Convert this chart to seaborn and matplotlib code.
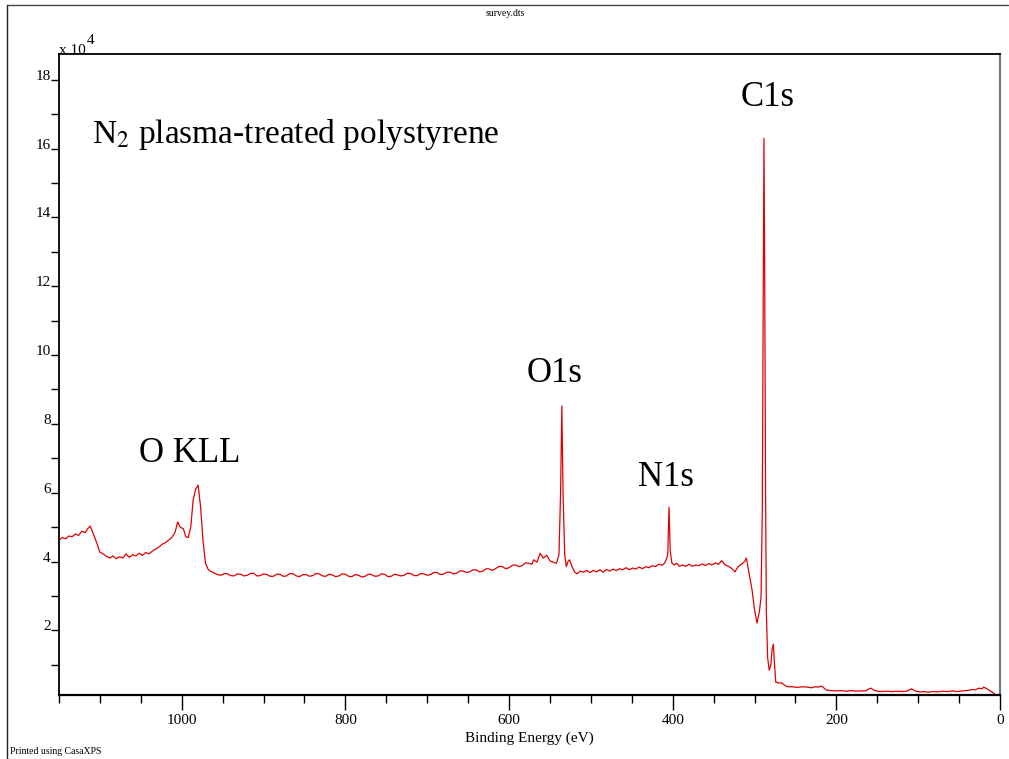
import matplotlib
matplotlib.use("Agg")
import matplotlib.pyplot as plt
import matplotlib.ticker as mticker
from matplotlib.lines import Line2D
import seaborn as sns
import pandas as pd

# Binding energy (eV) and intensity (counts)
binding_energy = [
    1150, 1146, 1142, 1138, 1134, 1130, 1126, 1122, 1118, 1115, 1112, 1108, 1104, 1100,
    1096, 1092, 1088, 1084, 1080, 1076, 1072, 1068, 1064, 1060, 1056, 1052, 1048, 1044,
    1040, 1036, 1032, 1028, 1024, 1020, 1016, 1012, 1008, 1005, 1002, 998, 995, 992,
    989, 986, 983, 980, 977, 974, 971, 968, 965,
    960, 956, 952, 948, 944, 940, 936, 932, 928, 924, 920, 916, 912, 908, 904, 900,
    896, 892, 888, 884, 880, 876, 872, 868, 864, 860, 856, 852, 848, 844, 840, 836,
    832, 828, 824, 820, 816, 812, 808, 804, 800, 796, 792, 788, 784, 780, 776, 772,
    768, 764, 760, 756, 752, 748, 744, 740, 736, 732, 728, 724, 720, 716, 712, 708,
    704, 700, 696, 692, 688, 684, 680, 676, 672, 668, 664, 660, 656, 652, 648, 644,
    640, 636, 632, 628, 624, 620, 616, 612, 608, 604, 600, 596, 592, 588, 584, 580,
    576, 572, 570, 566, 562, 558, 554, 550, 546, 542, 539, 537, 535.5, 534, 532, 530,
    528, 526, 523, 520, 517, 513, 509, 505, 501, 497, 493, 489, 485, 481, 477, 473,
    469, 465, 461, 457, 453, 449, 445, 441, 437, 433, 429, 425, 421, 417, 413, 410,
    408, 406, 404.5, 403, 401, 398, 395, 392, 388, 384, 380, 376, 372, 368, 364, 360,
    356, 352, 348, 344, 340, 336, 332, 328, 324, 320, 316, 312, 310, 307, 303, 300,
    297, 294, 292, 290.5, 289.5, 288.5, 287.5, 286.5, 285.5, 284, 282, 280, 278.5, 277,
    275.5, 274, 270, 267, 263, 260, 254, 248, 242, 236, 230, 226, 222, 218, 214, 212,
    206, 200, 194, 188, 182, 176, 170, 164, 160, 158, 154, 150, 144, 138, 132, 126,
    120, 114, 110, 108, 104, 98, 92, 88, 82, 76, 70, 64, 58, 52, 46, 40, 34, 30, 26,
    22, 20, 16, 12, 8, 5, 3,
]
counts = [
    46200, 47000, 46600, 47400, 47200, 48000, 47600, 48800, 48400, 49500, 50300, 48000, 45500, 42700,
    42200, 41500, 41000, 41600, 40800, 41400, 41000, 42200, 41200, 42000, 41600, 42400, 41800, 42600,
    42200, 43000, 43600, 44200, 45000, 45500, 46200, 47000, 48600, 51500, 50000, 49500, 47200, 47000,
    50000, 58000, 61000, 62200, 56000, 46000, 39500, 37800, 37200,
    36600, 36200, 36000, 36500, 36400, 35900, 35800, 36400, 36300, 35800, 36000, 36500, 36600, 35800, 35900, 36400,
    36200, 35700, 35700, 36300, 36300, 35700, 35800, 36500, 36400, 35800, 35600, 36200, 36200, 35700, 35900, 36500,
    36400, 35800, 35700, 36300, 36100, 35600, 35800, 36400, 36300, 35700, 35600, 36200, 36000, 35500, 35700, 36300,
    36200, 35700, 35800, 36400, 36300, 35600, 35700, 36300, 36100, 35800, 36000, 36600, 36500, 35900, 35900, 36500,
    36400, 36000, 36200, 36800, 36800, 36200, 36300, 36900, 36900, 36400, 36600, 37300, 37200, 36800, 37000, 37600,
    37500, 37000, 37200, 37900, 37800, 37400, 38000, 38600, 38500, 37900, 38200, 38900, 39000, 38500, 38800, 39600,
    39500, 39200, 40500, 39800, 42400, 41000, 41800, 40200, 39800, 39500, 42000, 60000, 85200, 60000, 42000, 38500,
    40000, 40500, 38500, 37000, 36400, 37200, 36900, 37400, 36800, 37400, 37000, 37600, 36900, 37700, 37200, 37800,
    37400, 37900, 37600, 38200, 37600, 38100, 37800, 38400, 37900, 38500, 38200, 38800, 38500, 39200, 38900, 39500,
    40500, 42000, 55800, 43000, 39500, 39000, 39500, 38600, 39000, 38600, 39200, 38600, 39000, 38800, 39300, 38800,
    39400, 39000, 39600, 39200, 40200, 39000, 38600, 38000, 37000, 38500, 39200, 40000, 41000, 37000, 31700, 26000,
    22100, 25500, 29700, 55000, 110000, 163000, 120000, 60000, 25000, 12000, 8400, 10000, 14500, 16000,
    10000, 4900, 4700, 4700, 4000, 3600, 3600, 3400, 3600, 3500, 3300, 3600, 3500, 3800, 3000, 2600,
    2500, 2400, 2500, 2300, 2500, 2300, 2400, 2400, 3000, 3200, 2600, 2300, 2200, 2300, 2200, 2300,
    2200, 2300, 2800, 3000, 2400, 2100, 2200, 2000, 2200, 2100, 2300, 2200, 2400, 2200, 2400, 2500, 2800, 2700, 3200,
    3000, 3500, 3000, 2400, 1800, 1200, 1000,
]

peak_labels = ["C1s", "O1s", "N1s", "O KLL"]
peak_label_x = [284, 544, 408, 990]
peak_label_y = [175000, 94500, 64500, 71500]

df = pd.DataFrame({"Binding Energy (eV)": binding_energy, "Counts": counts})

sns.set_style("ticks")
plt.rcParams["font.family"] = ["Liberation Serif", "DejaVu Serif"]
plt.rcParams["mathtext.fontset"] = "stix"
for key in ["text.color", "axes.labelcolor", "xtick.color", "ytick.color"]:
    plt.rcParams[key] = "black"

fig = plt.figure(figsize=(10.09, 7.59), dpi=100)
ax = fig.add_axes([59 / 1009, 64 / 759, 941 / 1009, 641 / 759])

sns.lineplot(data=df, x="Binding Energy (eV)", y="Counts", ax=ax,
             color="#e00000", linewidth=0.9, sort=False)

ax.set_xlim(1150, 0)
ax.set_ylim(1200, 187500)

ax.xaxis.set_major_locator(mticker.MultipleLocator(200))
ax.xaxis.set_minor_locator(mticker.MultipleLocator(50))
ax.yaxis.set_major_locator(mticker.MultipleLocator(20000))
ax.yaxis.set_minor_locator(mticker.MultipleLocator(10000))
ax.yaxis.set_major_formatter(mticker.FuncFormatter(lambda v, p: f"{v / 1e4:g}"))

ax.tick_params(axis="x", which="major", direction="out", length=11, width=1, labelsize=11, pad=3)
ax.tick_params(axis="x", which="minor", direction="out", length=6, width=1)
ax.tick_params(axis="y", which="major", direction="out", length=6, width=1, labelsize=11, pad=0)
ax.tick_params(axis="y", which="minor", direction="out", length=6, width=1)
for lab in ax.get_yticklabels():
    lab.set_verticalalignment("baseline")

for side in ["left", "bottom", "top"]:
    ax.spines[side].set_color("black")
    ax.spines[side].set_linewidth(1.3)
ax.spines["bottom"].set_linewidth(1.6)
ax.spines["right"].set_color("#777777")
ax.spines["right"].set_linewidth(1.6)

ax.set_xlabel("Binding Energy (eV)", fontsize=11, labelpad=3)
ax.set_ylabel("")

for lab, lx, ly in zip(peak_labels, peak_label_x, peak_label_y):
    ax.text(lx, ly, lab, fontsize=25, ha="center", va="center")

ax.text(0.035, 0.875, r"N$_2$ plasma-treated polystyrene", transform=ax.transAxes,
        fontsize=24, ha="left", va="center")

fig.text(59 / 1009, 1 - 54 / 759, "x 10", fontsize=11, ha="left", va="baseline")
fig.text(87 / 1009, 1 - 44 / 759, "4", fontsize=11, ha="left", va="baseline")

fig.text(505 / 1009, 1 - 13 / 759, "survey.dts", fontsize=7, ha="center", va="center")
fig.text(10 / 1009, 1 - 752 / 759, "Printed using CasaXPS", fontsize=7, ha="left", va="center")

fig.add_artist(Line2D([7 / 1009, 1008 / 1009], [1 - 5 / 759, 1 - 5 / 759],
                      transform=fig.transFigure, color="#444444", linewidth=1.0))
fig.add_artist(Line2D([7 / 1009, 7 / 1009], [1 - 5 / 759, 0],
                      transform=fig.transFigure, color="#222222", linewidth=1.0))

fig.savefig("out.png", dpi=100)
